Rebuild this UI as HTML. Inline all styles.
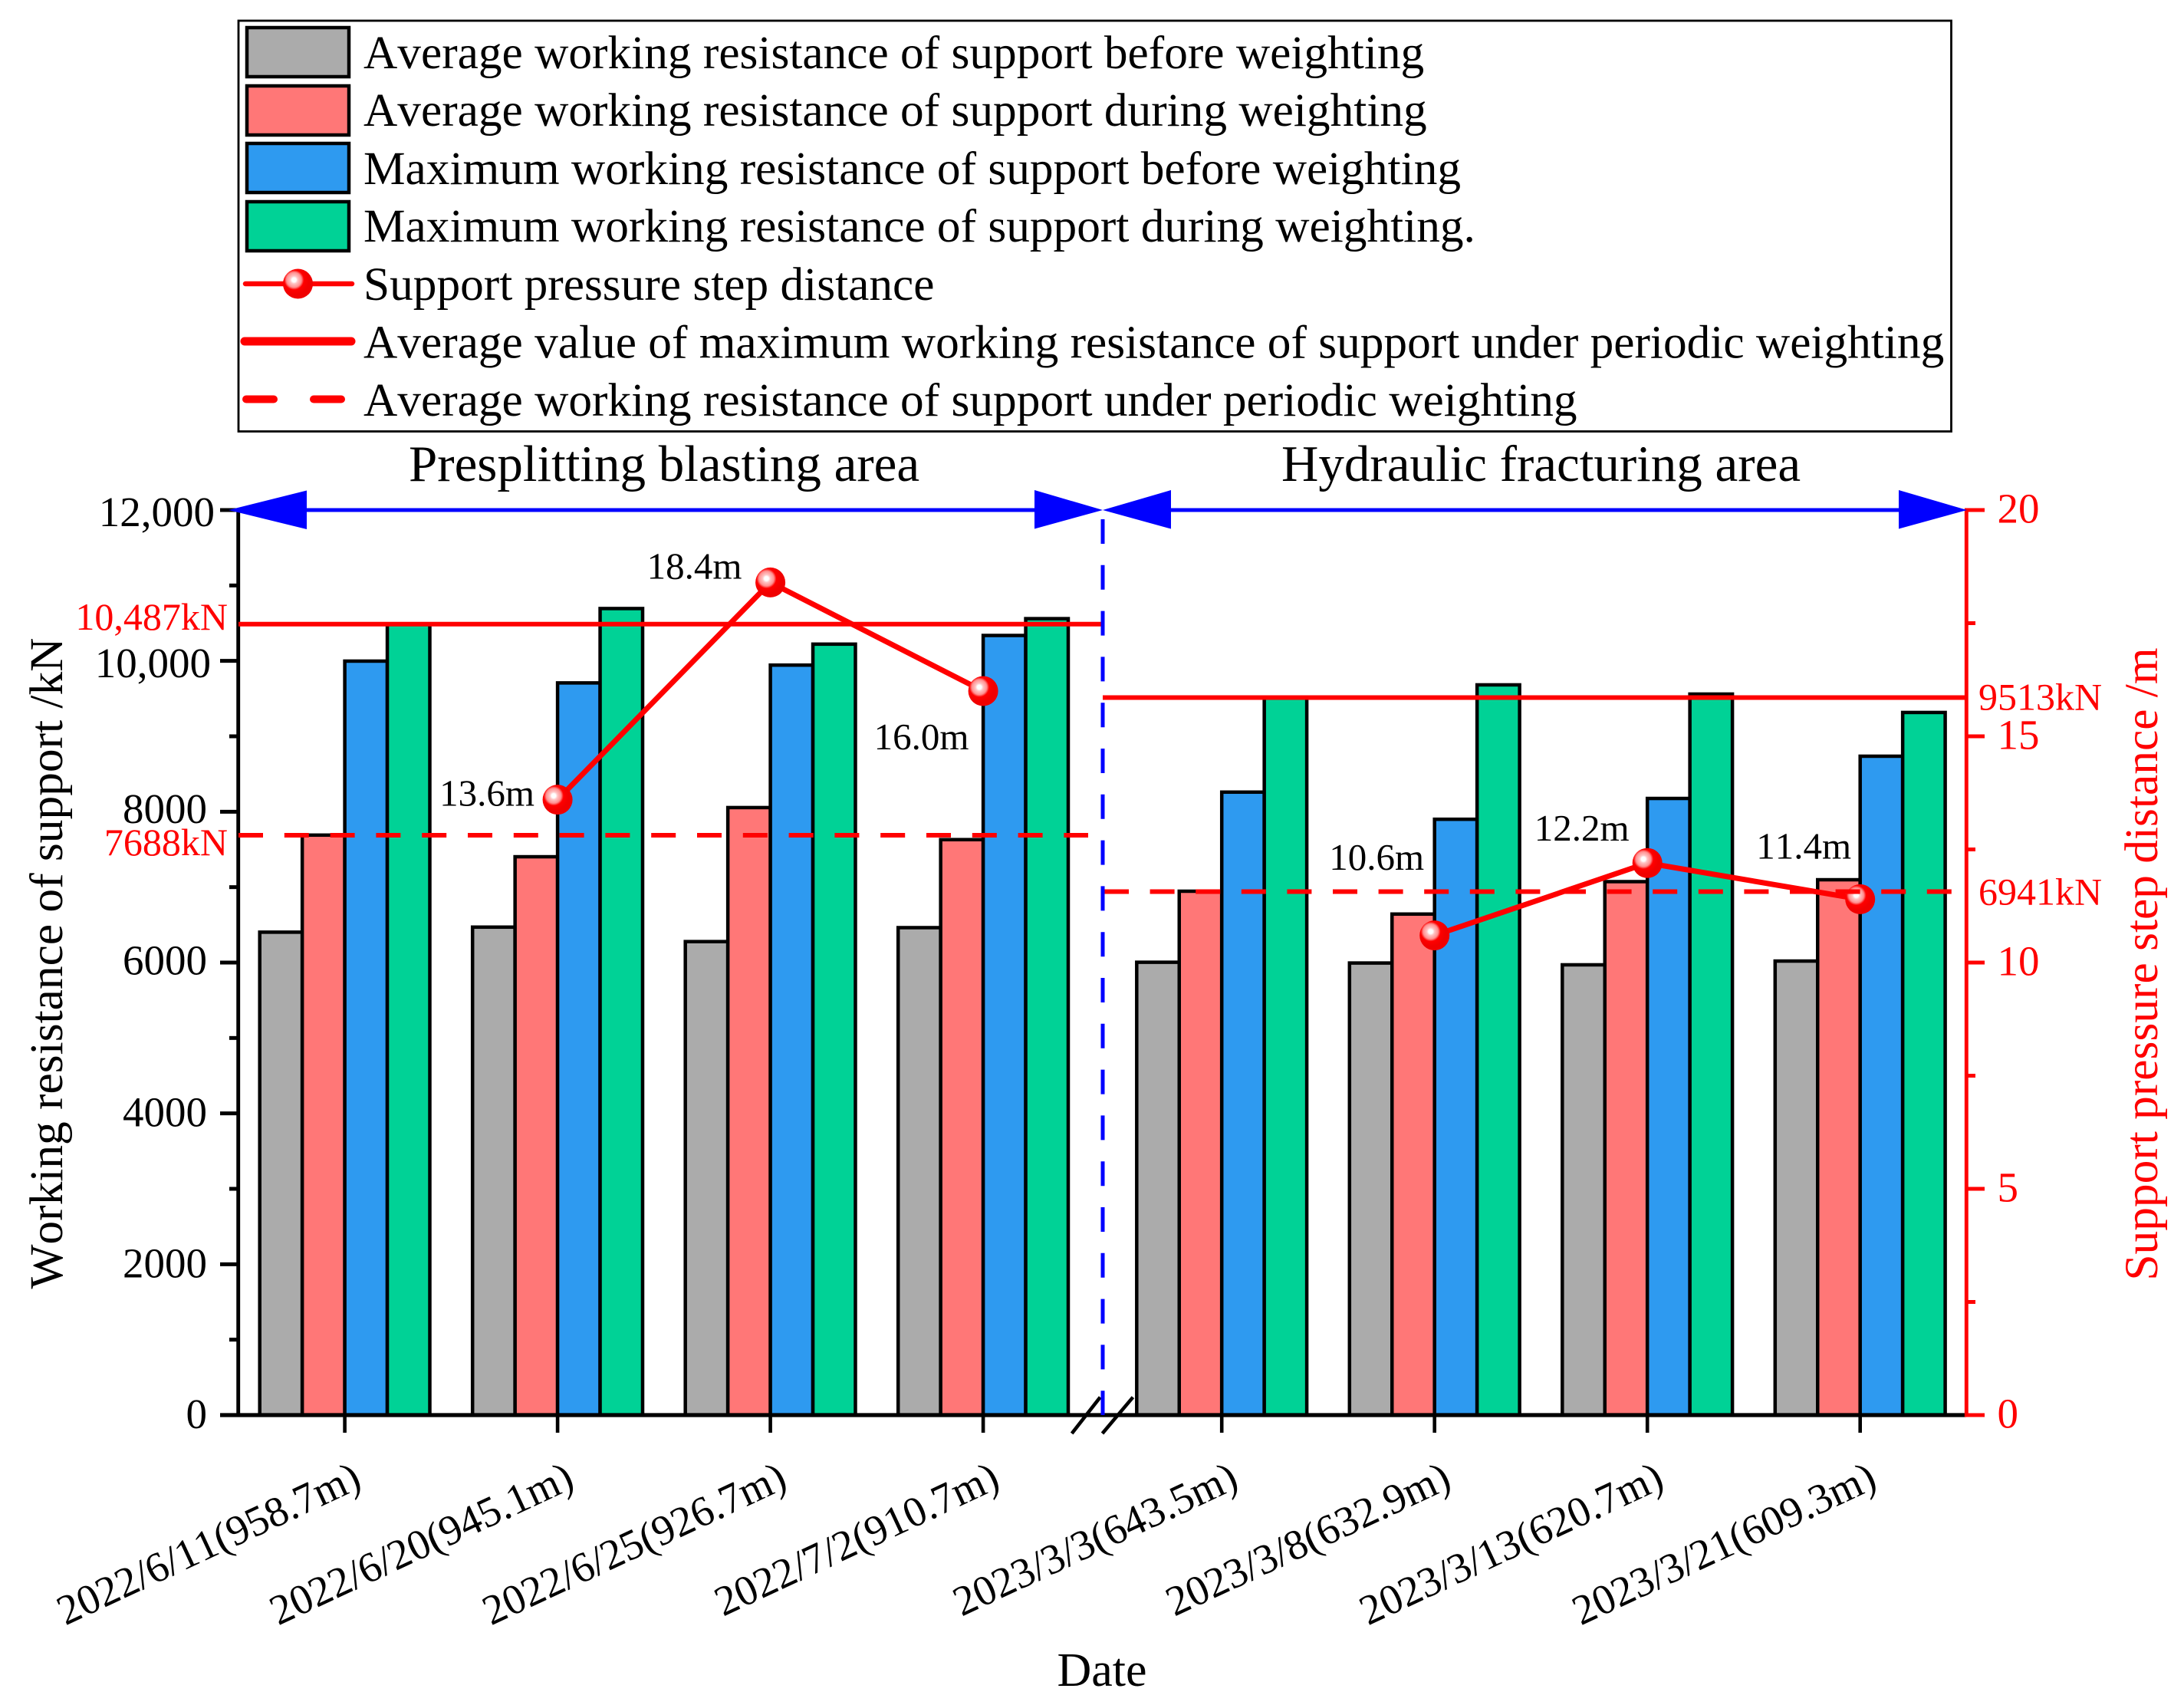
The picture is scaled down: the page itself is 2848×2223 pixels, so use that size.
<!DOCTYPE html>
<html lang="en">
<head>
<meta charset="utf-8">
<title>Working resistance of support and support pressure step distance</title>
<style>
html,body{margin:0;padding:0;background:#fff;}
svg{display:block;}
text{font-family:"Liberation Serif",serif;fill:#000;font-kerning:none;}
.red{fill:#f00;}
</style>
</head>
<body>
<svg id="chart" xmlns="http://www.w3.org/2000/svg" width="2848" height="2223" viewBox="0 0 2848 2223">
  <defs>
    <radialGradient id="ball" cx="0.37" cy="0.37" r="0.5" fx="0.37" fy="0.37">
      <stop offset="0" stop-color="#ffffff"/>
      <stop offset="0.14" stop-color="#ffffff"/>
      <stop offset="0.26" stop-color="#ffc4c4"/>
      <stop offset="0.5" stop-color="#ff8f8f"/>
      <stop offset="0.66" stop-color="#ff0000"/>
      <stop offset="1" stop-color="#f00000"/>
    </radialGradient>
  </defs>
  <rect width="2848" height="2223" fill="#fff"/>

  <g>
    <rect x="311" y="27" width="2233.5" height="535.5" fill="#fff" stroke="#000" stroke-width="2.8"/>
    <rect x="322" y="36" width="133" height="64" fill="#ababab" stroke="#000" stroke-width="4.5"/>
    <rect x="322" y="112" width="133" height="64" fill="#ff7777" stroke="#000" stroke-width="4.5"/>
    <rect x="322" y="187" width="133" height="64" fill="#2e9af0" stroke="#000" stroke-width="4.5"/>
    <rect x="322" y="263" width="133" height="64" fill="#00d296" stroke="#000" stroke-width="4.5"/>
    <line x1="320" y1="370" x2="459" y2="370" stroke="#f00" stroke-width="6.5" stroke-linecap="round"/>
    <circle cx="388.5" cy="370" r="19.5" fill="url(#ball)"/>
    <line x1="319" y1="445" x2="458" y2="445" stroke="#f00" stroke-width="11" stroke-linecap="round"/>
    <line x1="321" y1="520.5" x2="357" y2="520.5" stroke="#f00" stroke-width="10" stroke-linecap="round"/>
    <line x1="409" y1="520.5" x2="445" y2="520.5" stroke="#f00" stroke-width="10" stroke-linecap="round"/>
    <text x="474" y="89" font-size="61.35">Average working resistance of support before weighting</text>
    <text x="474" y="164" font-size="61.35">Average working resistance of support during weighting</text>
    <text x="474" y="240" font-size="61.35">Maximum working resistance of support before weighting</text>
    <text x="474" y="315" font-size="61.35">Maximum working resistance of support during weighting.</text>
    <text x="474" y="391" font-size="61.35">Support pressure step distance</text>
    <text x="474" y="466.5" font-size="61.35">Average value of maximum working resistance of support under periodic weighting</text>
    <text x="474" y="542" font-size="61.35">Average working resistance of support under periodic weighting</text>
  </g>

  <text x="533" y="627" font-size="67">Presplitting blasting area</text>
  <text x="1671" y="627" font-size="67">Hydraulic fracturing area</text>

  <g id="bars"></g>
  <g id="axes"></g>
  <g id="series"></g>
  <g id="averages"></g>

  <g>
    <line x1="1438" y1="677" x2="1438" y2="1845" stroke="#00f" stroke-width="5" stroke-dasharray="32 27.8"/>
    <line x1="400" y1="665" x2="1349" y2="665" stroke="#00f" stroke-width="5"/>
    <line x1="1527" y1="665" x2="2476" y2="665" stroke="#00f" stroke-width="5"/>
    <polygon points="298,665 400,639.5 400,690" fill="#00f"/>
    <polygon points="1438,665 1349,639 1349,689.5" fill="#00f"/>
    <polygon points="1438,665 1527,639 1527,689.5" fill="#00f"/>
    <polygon points="2565,665 2476,639 2476,689.5" fill="#00f"/>
  </g>

  <text transform="translate(81 1256) rotate(-90)" text-anchor="middle" font-size="61.4">Working resistance of support /kN</text>
  <text class="red" transform="translate(2813 1257) rotate(-90)" text-anchor="middle" font-size="61.4">Support pressure step distance /m</text>
  <text x="1437" y="2198" text-anchor="middle" font-size="62">Date</text>

<script>
const categories = ["2022/6/11(958.7m)","2022/6/20(945.1m)","2022/6/25(926.7m)","2022/7/2(910.7m)","2023/3/3(643.5m)","2023/3/8(632.9m)","2023/3/13(620.7m)","2023/3/21(609.3m)"];
const avgBefore = [6403,6470,6278,6463,6004,5994,5970,6020];
const avgDuring = [7690,7403,8055,7630,6946,6643,7073,7098];
const maxBefore = [9997,9708,9944,10337,8260,7900,8176,8736];
const maxDuring = [10490,10694,10222,10560,9510,9682,9560,9316];
const stepDistance = [null,13.6,18.4,16.0,null,10.6,12.2,11.4];
const maxAverages = [10487,9513];
const workAverages = [7688,6941];
const leftTicks = [0,2000,4000,6000,8000,10000,12000];
const leftTickLabels = ["0","2000","4000","6000","8000","10,000","12,000"];
const leftMinorTicks = [1000,3000,5000,7000,9000,11000];
const rightTicks = [0,5,10,15,20];
const rightMinorTicks = [2.5,7.5,12.5,17.5];

const NS = "http://www.w3.org/2000/svg";
const barsG = document.getElementById("bars");
const axesG = document.getElementById("axes");
const seriesG = document.getElementById("series");
const avgG = document.getElementById("averages");

function xPos(i){ return 449.6 + 277.5*i + (i >= 4 ? 33.6 : 0); }
function yLeft(v){ return 1845 - v*(1180/12000); }
function yRight(v){ return 1845 - v*(1180/20); }

function make(tag, parent, props, txt){
  const el = document.createElementNS(NS, tag);
  for (const k in props) el.setAttribute(k, props[k]);
  if (txt !== undefined) el.textContent = txt;
  parent.appendChild(el);
  return el;
}

const barW = 55.45;
const seriesList = [avgBefore, avgDuring, maxBefore, maxDuring];
const seriesFill = ["#ababab","#ff7777","#2e9af0","#00d296"];
seriesList.forEach(function(vals, s){
  vals.forEach(function(v, i){
    const el = make("rect", barsG, {x: xPos(i)+(s-2)*barW, y: yLeft(v), width: barW, height: yLeft(0)-yLeft(v), fill: seriesFill[s], stroke: "#000", "stroke-width": 4.5});
    
    
  });
});

/* left axis */
let el = make("line", axesG, {x1: 310.7, y1: yLeft(12000)-2.5, x2: 310.7, y2: yLeft(0), stroke: "#000", "stroke-width": 4.9});


el = make("line", axesG, {x1: 287, y1: yLeft(0), x2: 2564, y2: yLeft(0), stroke: "#000", "stroke-width": 5.2});



function leftLabelRight(v){
  if (v === 12000) return 280;
  if (v === 10000) return 275;
  return 270;
}
function leftLabelDrop(v){
  if (v === 12000) return 21;
  if (v === 10000) return 21.5;
  if (v === 8000) return 14.5;
  if (v === 6000) return 15.5;
  return 17;
}
leftTicks.forEach(function(v, i){
  const t = make("line", axesG, {x1: 287, y1: yLeft(v), x2: 310, y2: yLeft(v), stroke: "#000", "stroke-width": 5});
  
  
  const l = make("text", axesG, {x: leftLabelRight(v), y: yLeft(v)+leftLabelDrop(v), "text-anchor": "end", "font-size": 55}, leftTickLabels[i]);
  
  
});
leftMinorTicks.forEach(function(v){
  const t = make("line", axesG, {x1: 299, y1: yLeft(v), x2: 310, y2: yLeft(v), stroke: "#000", "stroke-width": 5});
  
  
});

/* right axis */
el = make("line", axesG, {x1: 2564.3, y1: yRight(20)-2.5, x2: 2564.3, y2: yRight(0)+2.5, stroke: "#f00", "stroke-width": 4.9});


rightTicks.forEach(function(v){
  const t = make("line", axesG, {x1: 2564, y1: yRight(v), x2: 2588, y2: yRight(v), stroke: "#f00", "stroke-width": 5});
  
  
  const l = make("text", axesG, {x: 2604.5, y: yRight(v)+16.5, "font-size": 55, class: "red"}, String(v));
  
  
});
rightMinorTicks.forEach(function(v){
  const t = make("line", axesG, {x1: 2564, y1: yRight(v), x2: 2576, y2: yRight(v), stroke: "#f00", "stroke-width": 5});
  
  
});

/* category ticks and labels */
categories.forEach(function(c, i){
  const x = xPos(i);
  const t = make("line", axesG, {x1: x, y1: yLeft(0), x2: x, y2: 1868, stroke: "#000", "stroke-width": 4.6});
  
  
  const lx = x + 24.2;
  const l = make("text", axesG, {x: lx, y: 1938.5, "text-anchor": "end", "font-size": 55.3, transform: "rotate(-25 "+lx+" 1938.5)"}, c);
  
  
});

/* axis break marks */
el = make("line", axesG, {x1: 1397.7, y1: 1869, x2: 1434.7, y2: 1821.7, stroke: "#000", "stroke-width": 4.6});


el = make("line", axesG, {x1: 1437.5, y1: 1869, x2: 1477.4, y2: 1821.7, stroke: "#000", "stroke-width": 4.6});



/* step distance line with markers */
function stepLabelOffset(i){
  if (i === 1) return [-154, 8];
  if (i === 2) return [-161, -5];
  if (i === 3) return [-142.5, 76];
  if (i === 5) return [-137.5, -85.6];
  if (i === 6) return [-147.5, -29];
  return [-135.5, -53];
}
stepDistance.forEach(function(v, i){
  const n = stepDistance[i+1];
  if (v === null || n === null || n === undefined) return;
  const seg = make("line", seriesG, {x1: xPos(i), y1: yRight(v), x2: xPos(i+1), y2: yRight(n), stroke: "#f00", "stroke-width": 7});
  
  
});
stepDistance.forEach(function(v, i){
  if (v === null) return;
  const m = make("circle", seriesG, {cx: xPos(i), cy: yRight(v), r: 19.5, fill: "url(#ball)"});
  
  
  const off = stepLabelOffset(i);
  const l = make("text", seriesG, {x: xPos(i)+off[0], y: yRight(v)+off[1], "font-size": 49}, v.toFixed(1)+"m");
  
  
});

/* average lines */
el = make("line", avgG, {x1: 311, y1: yLeft(maxAverages[0]), x2: 1436, y2: yLeft(maxAverages[0]), stroke: "#f00", "stroke-width": 6});


el = make("line", avgG, {x1: 1438, y1: yLeft(maxAverages[1]), x2: 2564, y2: yLeft(maxAverages[1]), stroke: "#f00", "stroke-width": 6});


el = make("line", avgG, {x1: 311, y1: yLeft(workAverages[0]), x2: 1419, y2: yLeft(workAverages[0]), stroke: "#f00", "stroke-width": 6, "stroke-dasharray": "32 27.8"});


el = make("line", avgG, {x1: 1440, y1: yLeft(workAverages[1]), x2: 2546, y2: yLeft(workAverages[1]), stroke: "#f00", "stroke-width": 6, "stroke-dasharray": "32 27.6"});



function fmtKn(v){ return (v >= 10000 ? String(v).replace(/(\d{3})$/, ",$1") : String(v)) + "kN"; }
el = make("text", avgG, {x: 297, y: yLeft(maxAverages[0])+7, "text-anchor": "end", "font-size": 50, class: "red"}, fmtKn(maxAverages[0]));


el = make("text", avgG, {x: 2580, y: yLeft(maxAverages[1])+16, "font-size": 50, class: "red"}, fmtKn(maxAverages[1]));


el = make("text", avgG, {x: 297, y: yLeft(workAverages[0])+26, "text-anchor": "end", "font-size": 50, class: "red"}, fmtKn(workAverages[0]));


el = make("text", avgG, {x: 2580, y: yLeft(workAverages[1])+17, "font-size": 50, class: "red"}, fmtKn(workAverages[1]));


</script>
</svg>
</body>
</html>
